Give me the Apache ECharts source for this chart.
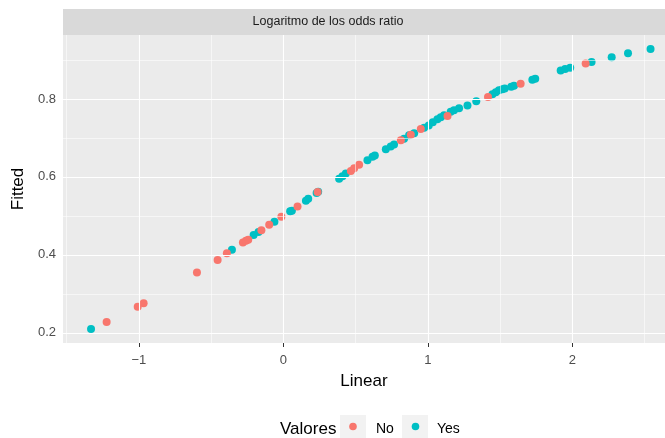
<!DOCTYPE html>
<html>
<head>
<meta charset="utf-8">
<script src="https://cdn.jsdelivr.net/npm/echarts@6/dist/echarts.min.js"></script>
<style>
  html, body { margin: 0; padding: 0; background: #ffffff; }
  #chart { width: 665px; height: 438px; }
</style>
</head>
<body>
<div id="chart"></div>
<script>
// Linear predictor vs fitted probability, coloured by observed outcome
const linearNo = [-1.223, -1.008, -0.967, -0.598, -0.455, -0.391, -0.280, -0.259, -0.243,
  -0.152, -0.098, -0.014, 0.098, 0.237, 0.467, 0.490, 0.524, 0.813, 0.882, 0.951,
  1.136, 1.416, 1.642, 2.092];
const fittedNo = [0.228, 0.267, 0.276, 0.355, 0.387, 0.404, 0.432, 0.436, 0.439,
  0.463, 0.477, 0.498, 0.524, 0.561, 0.615, 0.622, 0.631, 0.694, 0.708, 0.723,
  0.756, 0.805, 0.839, 0.891];

const linearYes = [-1.331, -0.356, -0.206, -0.172, -0.062, 0.047, 0.059, 0.156, 0.172,
  0.230, 0.241, 0.386, 0.409, 0.432, 0.582, 0.617, 0.633, 0.709, 0.743, 0.766,
  0.835, 0.870, 0.905, 0.974, 1.006, 1.034, 1.066, 1.089, 1.112, 1.158, 1.181,
  1.216, 1.274, 1.335, 1.447, 1.470, 1.492, 1.516, 1.532, 1.577, 1.596, 1.723,
  1.743, 1.919, 1.950, 1.985, 2.133, 2.272, 2.385, 2.541];
const fittedYes = [0.210, 0.413, 0.451, 0.459, 0.485, 0.512, 0.513, 0.539, 0.544,
  0.559, 0.562, 0.595, 0.602, 0.609, 0.643, 0.652, 0.655, 0.671, 0.678, 0.683,
  0.698, 0.707, 0.712, 0.726, 0.732, 0.740, 0.748, 0.753, 0.758, 0.767, 0.771,
  0.776, 0.783, 0.794, 0.812, 0.817, 0.822, 0.825, 0.827, 0.831, 0.834, 0.849,
  0.852, 0.873, 0.877, 0.880, 0.895, 0.907, 0.917, 0.928];

const groups = ['No', 'Yes'];
const xTicks = [-1, 0, 1, 2];
const xMinor = [-1.5, -0.5, 0.5, 1.5, 2.5];
const yTicks = [0.2, 0.4, 0.6, 0.8];
const yMinor = [0.3, 0.5, 0.7, 0.9];

const FONT = '"Liberation Sans", Arial, sans-serif';
const COL_NO = '#F8766D';
const COL_YES = '#00BFC4';

const pairs = (xs, ys) => xs.map((x, i) => [x, ys[i]]);

const gridLines = []
  .concat(xMinor.map(v => ({ xAxis: v, lineStyle: { width: 0.55 } })))
  .concat(yMinor.map(v => ({ yAxis: v, lineStyle: { width: 0.55 } })))
  .concat(xTicks.map(v => ({ xAxis: v, lineStyle: { width: 1.1 } })))
  .concat(yTicks.map(v => ({ yAxis: v, lineStyle: { width: 1.1 } })));

const chart = echarts.init(document.getElementById('chart'), null, { renderer: 'canvas' });

chart.setOption({
  animation: false,
  backgroundColor: '#ffffff',
  textStyle: { fontFamily: FONT },
  grid: {
    left: 63, top: 35, right: 0, bottom: 95,
    show: true, backgroundColor: '#EBEBEB', borderWidth: 0
  },
  xAxis: {
    type: 'value', min: -1.525, max: 2.641,
    name: 'Linear', nameLocation: 'middle', nameGap: 30,
    nameTextStyle: { fontSize: 17, color: '#000000', fontFamily: FONT },
    axisLine: { show: false },
    splitLine: { show: false },
    axisTick: { show: true, customValues: xTicks, length: 4, lineStyle: { color: '#333333', width: 1 } },
    axisLabel: {
      customValues: xTicks, color: '#4D4D4D', fontSize: 13, margin: 11, fontFamily: FONT,
      formatter: v => (v < 0 ? '\u2212' + Math.abs(v) : String(v))
    }
  },
  yAxis: {
    type: 'value', min: 0.174, max: 0.964,
    name: 'Fitted', nameLocation: 'middle', nameGap: 34,
    nameTextStyle: { fontSize: 17, color: '#000000', fontFamily: FONT },
    axisLine: { show: false },
    splitLine: { show: false },
    axisTick: { show: true, customValues: yTicks, length: 4, lineStyle: { color: '#333333', width: 1 } },
    axisLabel: {
      customValues: yTicks, color: '#4D4D4D', fontSize: 13, margin: 7, fontFamily: FONT,
      formatter: v => v.toFixed(1)
    }
  },
  series: [
    {
      name: 'grid', type: 'scatter', data: [], silent: true,
      markLine: {
        silent: true, symbol: ['none', 'none'], label: { show: false },
        lineStyle: { color: '#FFFFFF', type: 'solid' },
        emphasis: { disabled: true },
        data: gridLines
      }
    },
    {
      name: groups[1], type: 'scatter', symbolSize: 8,
      itemStyle: { color: COL_YES, opacity: 1 },
      data: pairs(linearYes, fittedYes)
    },
    {
      name: groups[0], type: 'scatter', symbolSize: 8,
      itemStyle: { color: COL_NO, opacity: 1 },
      data: pairs(linearNo, fittedNo)
    }
  ],
  graphic: [
    // facet strip
    { type: 'rect', shape: { x: 63, y: 9, width: 602, height: 26 }, style: { fill: '#D9D9D9' }, silent: true },
    { type: 'text', x: 328, y: 22, style: { text: 'Logaritmo de los odds ratio', fill: '#1A1A1A',
        font: '12.5px ' + FONT, align: 'center', verticalAlign: 'middle' }, silent: true },
    // legend
    { type: 'text', x: 280, y: 429, style: { text: 'Valores', fill: '#000000',
        font: '17px ' + FONT, align: 'left', verticalAlign: 'middle' }, silent: true },
    { type: 'rect', shape: { x: 340, y: 415, width: 26, height: 23 }, style: { fill: '#F2F2F2' }, silent: true },
    { type: 'circle', shape: { cx: 353, cy: 426.5, r: 3.8 }, style: { fill: COL_NO }, silent: true },
    { type: 'text', x: 376, y: 429, style: { text: groups[0], fill: '#000000',
        font: '14px ' + FONT, align: 'left', verticalAlign: 'middle' }, silent: true },
    { type: 'rect', shape: { x: 402, y: 415, width: 26, height: 23 }, style: { fill: '#F2F2F2' }, silent: true },
    { type: 'circle', shape: { cx: 415.5, cy: 426.5, r: 3.8 }, style: { fill: COL_YES }, silent: true },
    { type: 'text', x: 437, y: 429, style: { text: groups[1], fill: '#000000',
        font: '14px ' + FONT, align: 'left', verticalAlign: 'middle' }, silent: true }
  ]
});
</script>
</body>
</html>
